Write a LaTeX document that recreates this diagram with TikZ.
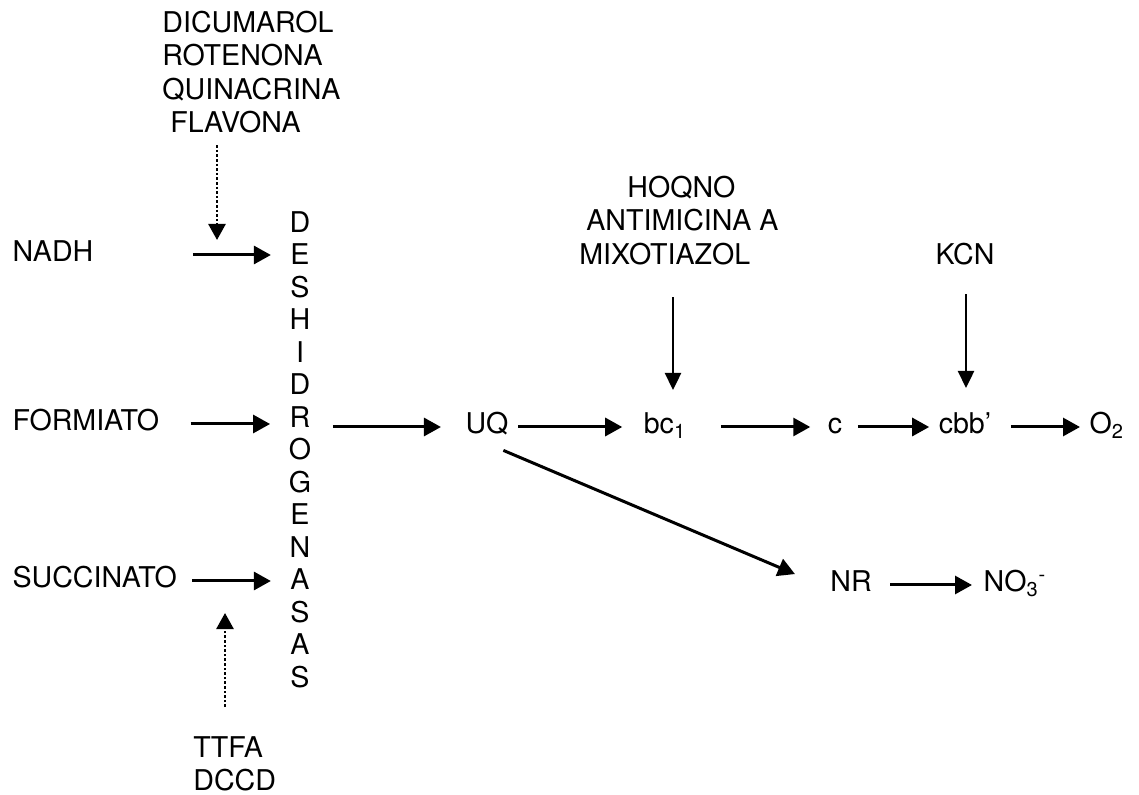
\documentclass[tikz,border=0pt]{standalone}
\usepackage{fontspec}
\setmainfont{TeX Gyre Heros}
\usetikzlibrary{arrows.meta}
\def \letsep {32.5}
\def \lettop {225.4}
\tikzstyle{chem}=[font=\fontsize{14.3}{16.85}\selectfont, text height=10.3pt, text depth=3.5pt, inner sep=4.6pt]
\tikzstyle{inhib}=[font=\fontsize{14.3}{16.6}\selectfont, align=left, inner sep=0pt]
\tikzstyle{arr}=[line width=1.5pt, -{Triangle[length=8.5pt, width=9pt]}]
\tikzstyle{blk}=[line width=1.2pt, -{Triangle[length=8.5pt, width=8pt]}]
\tikzstyle{dotarr}=[line width=1.3pt, densely dotted, -{Triangle[length=8pt, width=8.5pt]}]

\begin{document}
\begin{tikzpicture}[x=0.5pt, y=-0.5pt]
\useasboundingbox (0,0) rectangle (1139,795);

\foreach \l [count=\k] in {D,E,S,H,I,D,R,O,G,E,N,A,S,A,S}
    \node[chem] (D\k) at (300, \lettop + \letsep * \k - \letsep) {\l};

\node[chem, anchor=west] (NADH) at (3,255) {NADH};
\node[chem, anchor=west] (FORM) at (3,424) {FORMIATO};
\node[chem, anchor=west] (SUCC) at (3,581) {SUCCINATO};

\node[inhib, anchor=north west] (inhA) at (162,11) {DICUMAROL\\ROTENONA\\QUINACRINA\\\hspace*{4pt}FLAVONA};
\node[inhib, anchor=north west] (inhB) at (193,736) {TTFA\\DCCD};
\node[inhib, anchor=north west] (inhC) at (579,176) {\hspace*{24pt}HOQNO\\\hspace*{3.5pt}ANTIMICINA A\\MIXOTIAZOL};
\node[chem] (KCN) at (965,258) {KCN};

\node[chem] (UQ) at (487,427) {UQ};
\node[chem] (bc1) at (665,427) {bc\textsubscript{1}};
\node[chem] (c) at (835,427) {c};
\node[chem] (cbb) at (965,427) {cbb'};
\node[chem, anchor=west] (O2) at (1080,427) {O\textsubscript{2}};
\node[chem] (NR) at (851,585) {NR};
\node[chem, anchor=west] (NO3) at (974,585) {NO\textsubscript{3}\textsuperscript{-}};

\coordinate (tA) at (217,240);
\coordinate (tB) at (225,613);
\coordinate (tC) at (673,390);
\coordinate (tK) at (966,388);

\draw[arr, shorten <=45pt, shorten >=5pt] (NADH) -- (NADH -| D2.west);
\draw[arr, shorten <=11pt, shorten >=5pt] (FORM) -- (FORM -| D7.west);
\draw[arr, shorten <=3pt, shorten >=5pt] (SUCC) -- (SUCC -| D12.west);

\draw[dotarr, shorten <=6pt] (inhA.south -| tA) -- (tA);
\draw[dotarr, shorten <=14.5pt] (inhB.north -| tB) -- (tB);
\draw[blk, shorten <=16pt] (inhC.south -| tC) -- (tC);
\draw[blk, shorten <=6.5pt] (KCN.south -| tK) -- (tK);

\draw[arr, shorten <=6.5pt, shorten >=7.5pt] (D7.east |- UQ) -- (UQ);
\draw[arr, shorten >=6pt] (UQ) -- (bc1);
\draw[arr, shorten <=12.5pt, shorten >=4pt] (bc1) -- (c);
\draw[arr, shorten <=3pt] (c) -- (cbb);
\draw[arr, shorten <=5pt] (cbb) -- (O2);
\draw[arr, shorten >=14pt] (UQ.-55) -- (NR.west);
\draw[arr, shorten <=4.5pt, shorten >=1pt] (NR) -- (NO3);

\end{tikzpicture}
\end{document}
